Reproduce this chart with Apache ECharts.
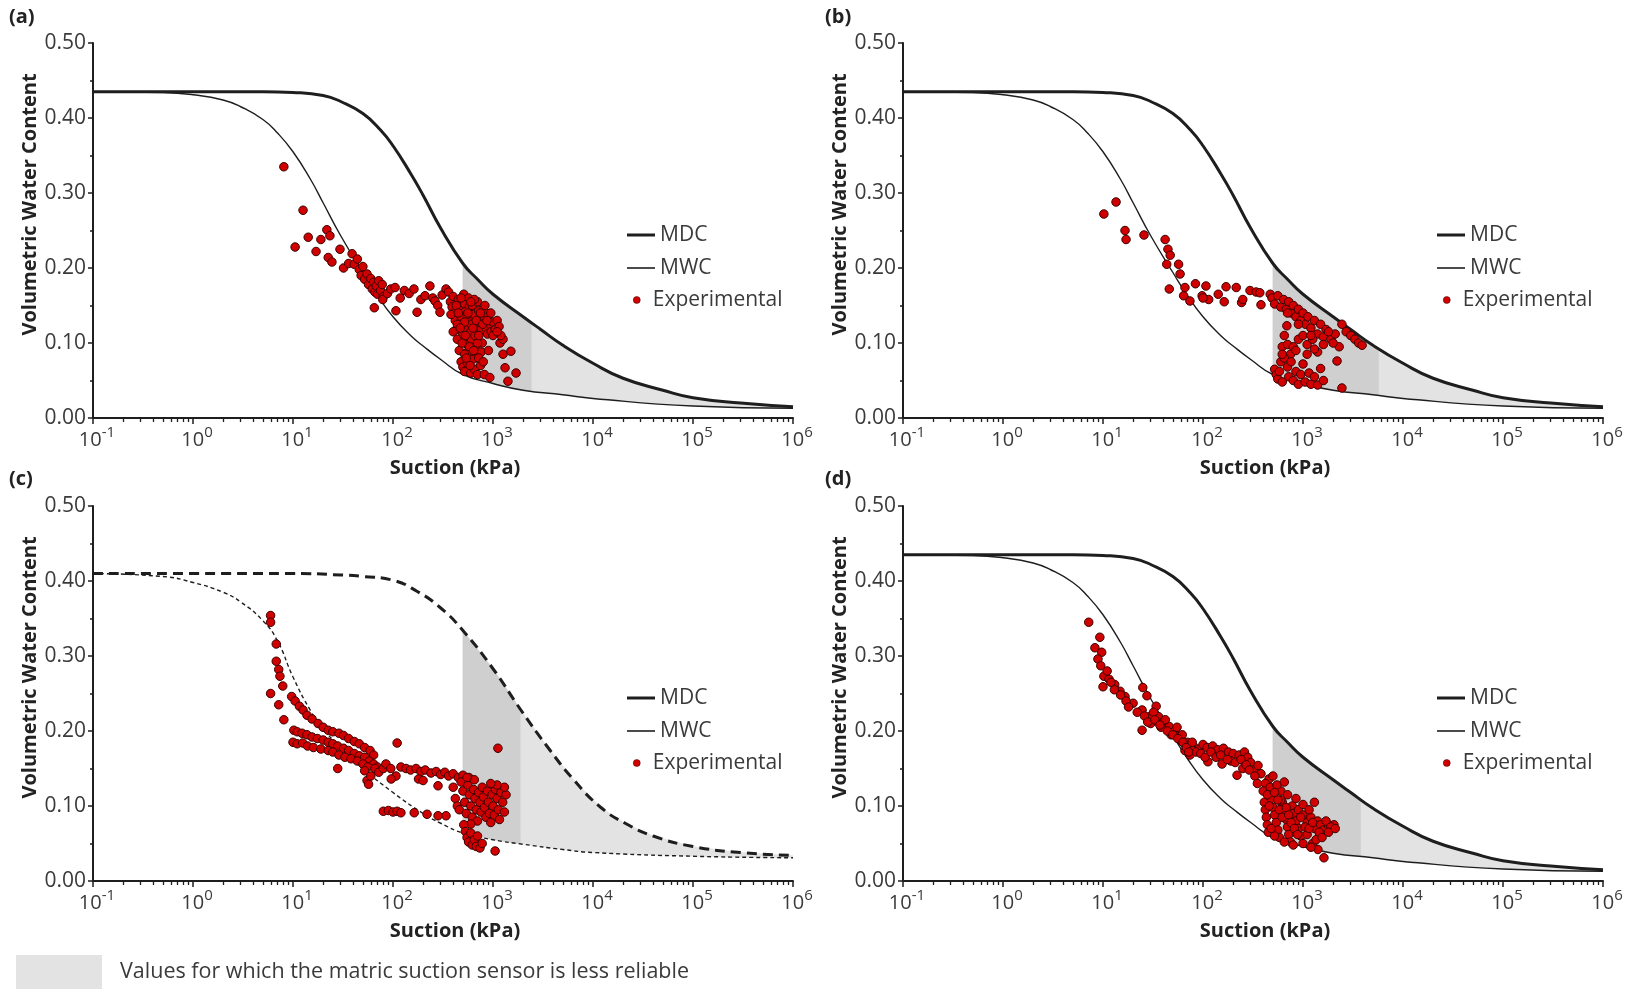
<!DOCTYPE html>
<html><head><meta charset="utf-8">
<script src="https://cdn.jsdelivr.net/npm/echarts@6/dist/echarts.min.js"></script>
<style>html,body{margin:0;padding:0;background:#fff}#c{width:1639px;height:989px}</style>
</head><body><div id="c"></div>
<script>
// ---------- data ----------
const decadeTicks = [0.1, 1, 10, 100, 1000, 10000, 100000, 1000000];
const yMin = 0, yMax = 0.5, yStep = 0.1;
const panelLabels = ['(a)', '(b)', '(c)', '(d)'];
const xTitle = 'Suction (kPa)';
const yTitle = 'Volumetric Water Content';
const shadeLabel = 'Values for which the matric suction sensor is less reliable';

// main drying / wetting curves (a), (b), (d) [suction kPa, theta]
const mdcABD = [[0.1,0.435],[1,0.435],[5,0.435],[10,0.434],[20,0.430],[30,0.422],[50,0.406],[75,0.384],[100,0.363],[150,0.326],[200,0.297],[300,0.253],[500,0.206],[700,0.185],[1000,0.165],[2000,0.135],[3000,0.118],[5000,0.097],[10000,0.073],[20000,0.053],[50000,0.037],[100000,0.027],[300000,0.020],[1000000,0.015]];
const mwcABD = [[0.1,0.435],[0.5,0.434],[1,0.431],[2,0.424],[3,0.415],[5,0.398],[7,0.380],[10,0.355],[15,0.318],[20,0.287],[30,0.243],[50,0.194],[70,0.163],[100,0.135],[150,0.110],[200,0.096],[300,0.078],[500,0.058],[1000,0.046],[2000,0.037],[5000,0.031],[10000,0.026],[100000,0.016],[1000000,0.013]];
// panel (c)
const mdcC = [[0.1,0.41],[1,0.41],[10,0.41],[30,0.408],[50,0.406],[100,0.401],[175,0.386],[300,0.364],[500,0.334],[1000,0.283],[1900,0.228],[3500,0.179],[6500,0.134],[12000,0.098],[21000,0.077],[40000,0.060],[100000,0.046],[300000,0.038],[1000000,0.034]];
const mwcC = [[0.1,0.41],[0.5,0.406],[1,0.398],[2,0.385],[3,0.372],[5,0.347],[7,0.320],[10,0.272],[15,0.227],[20,0.203],[30,0.178],[50,0.150],[100,0.118],[200,0.090],[300,0.077],[500,0.064],[1000,0.055],[2000,0.049],[5000,0.042],[10000,0.038],[100000,0.033],[1000000,0.031]];

// start / end of the darker "less reliable" band in each panel (kPa)
const bandStart = 500;
const bandEnds = [2450, 5750, 1900, 3800];
const bandLimit = 1000000;

// experimental points [suction kPa, theta]
const expA = [[8.1,0.335],[10.5,0.228],[12.6,0.277],[14.2,0.241],[17,0.222],[19,0.238],[21.8,0.251],[23.4,0.243],[22.5,0.214],[24.5,0.208],[29.5,0.225],[32,0.200],[39,0.219],[36,0.206],[41,0.205],[44,0.212],[46,0.198],[48,0.190],[50,0.202],[52,0.185],[55,0.192],[57,0.178],[60,0.186],[62,0.172],[64,0.181],[66,0.168],[68,0.176],[70,0.165],[72,0.183],[75,0.170],[78,0.178],[80,0.162],[65,0.147],[79,0.158],[88,0.166],[95,0.172],[105,0.174],[107,0.143],[118,0.160],[130,0.170],[145,0.166],[162,0.172],[174,0.141],[190,0.158],[209,0.163],[234,0.176],[250,0.160],[263,0.156],[280,0.150],[295,0.141],[310,0.164],[339,0.172],[360,0.168],[375,0.155],[390,0.148],[400,0.162],[410,0.140],[420,0.130],[430,0.118],[440,0.105],[450,0.158],[460,0.150],[470,0.145],[480,0.135],[490,0.125],[500,0.112],[510,0.165],[520,0.152],[530,0.142],[540,0.120],[550,0.098],[560,0.088],[570,0.160],[580,0.148],[590,0.132],[600,0.115],[610,0.105],[620,0.150],[640,0.138],[650,0.125],[660,0.110],[670,0.095],[680,0.080],[700,0.155],[720,0.143],[740,0.128],[760,0.118],[780,0.100],[800,0.145],[820,0.132],[850,0.120],[880,0.112],[900,0.138],[930,0.125],[960,0.115],[1000,0.128],[1050,0.118],[1100,0.130],[1175,0.100],[460,0.090],[480,0.075],[500,0.068],[520,0.062],[560,0.072],[600,0.060],[650,0.065],[700,0.058],[750,0.070],[820,0.058],[930,0.054],[1260,0.085],[1510,0.089],[1320,0.067],[1410,0.049],[1700,0.060],[1260,0.105],[520,0.085],[620,0.078],[580,0.095],[700,0.100],[760,0.088],[430,0.150],[550,0.138],[480,0.160],[650,0.158],[850,0.140],[1150,0.122],[1200,0.110],[700,0.128],[600,0.125],[520,0.128],[440,0.125],[400,0.115],[380,0.138],[450,0.140],[470,0.120],[490,0.100],[530,0.110],[560,0.140],[600,0.155],[630,0.120],[680,0.130],[720,0.110],[750,0.140],[790,0.125],[830,0.150],[870,0.130],[950,0.140],[1000,0.110],[1100,0.115],[540,0.080],[590,0.070],[640,0.090],[720,0.080],[800,0.075],[900,0.090]];
const expB = [[10.2,0.272],[13.5,0.288],[16.6,0.250],[17,0.238],[25.7,0.244],[41.8,0.238],[44.6,0.225],[47,0.217],[43.4,0.205],[57,0.205],[46,0.172],[59,0.192],[66,0.174],[64,0.163],[74,0.156],[84,0.179],[98,0.163],[107,0.176],[114,0.158],[100,0.160],[142,0.165],[170,0.175],[163,0.155],[215,0.174],[243,0.154],[250,0.158],[295,0.170],[340,0.168],[370,0.167],[380,0.151],[470,0.165],[490,0.160],[520,0.152],[560,0.163],[600,0.148],[640,0.158],[680,0.145],[720,0.155],[760,0.140],[800,0.150],[850,0.135],[900,0.145],[950,0.130],[1000,0.140],[1060,0.125],[1120,0.135],[1200,0.120],[1300,0.130],[1400,0.112],[1500,0.125],[1600,0.108],[1700,0.118],[1900,0.105],[2100,0.112],[2300,0.095],[2450,0.125],[2700,0.115],[3000,0.110],[3300,0.105],[3600,0.100],[3900,0.097],[2190,0.076],[2450,0.040],[690,0.123],[650,0.110],[620,0.095],[700,0.098],[750,0.085],[800,0.095],[900,0.105],[1000,0.110],[1100,0.098],[1250,0.105],[1400,0.088],[520,0.065],[540,0.058],[560,0.052],[580,0.062],[600,0.075],[620,0.048],[650,0.080],[700,0.068],[720,0.055],[760,0.075],[800,0.050],[850,0.062],[900,0.045],[950,0.058],[1000,0.072],[1050,0.048],[1150,0.060],[1200,0.045],[1300,0.055],[1400,0.044],[1500,0.066],[1600,0.050],[620,0.085],[850,0.090],[1100,0.085],[1300,0.092],[1600,0.098],[700,0.140],[900,0.125],[1200,0.110],[1800,0.115],[2000,0.100]];
const expC = [[5.97,0.354],[5.97,0.345],[5.97,0.250],[6.8,0.316],[6.8,0.293],[7.2,0.282],[7.4,0.273],[7.9,0.260],[7.2,0.235],[8.1,0.215],[9.7,0.246],[10.5,0.240],[11.6,0.233],[12.6,0.228],[13.8,0.221],[15.5,0.216],[17.8,0.210],[20,0.205],[22.5,0.201],[25,0.199],[28.8,0.197],[32,0.194],[36,0.190],[41,0.186],[46,0.183],[52,0.178],[59,0.174],[64,0.168],[10.2,0.201],[11,0.199],[12.3,0.197],[13.8,0.195],[15.5,0.192],[17.5,0.190],[20,0.188],[22.5,0.185],[25,0.183],[28,0.180],[32,0.177],[36,0.174],[41,0.170],[46,0.167],[52,0.165],[58,0.160],[64,0.156],[70,0.152],[10,0.185],[11,0.183],[12.5,0.184],[14,0.180],[16,0.178],[19,0.176],[22.5,0.174],[25,0.172],[28.8,0.168],[33,0.165],[38,0.163],[44,0.160],[50,0.156],[56,0.152],[28,0.150],[52,0.147],[55,0.134],[57,0.129],[60,0.140],[66,0.150],[72,0.145],[80,0.150],[85,0.156],[95,0.150],[107,0.140],[110,0.184],[96,0.136],[120,0.152],[135,0.150],[150,0.148],[170,0.150],[190,0.146],[210,0.148],[240,0.144],[270,0.146],[300,0.142],[330,0.145],[360,0.140],[400,0.143],[450,0.138],[500,0.141],[575,0.138],[180,0.136],[200,0.134],[282,0.127],[80,0.093],[90,0.094],[100,0.092],[110,0.093],[120,0.091],[163,0.091],[219,0.089],[282,0.087],[339,0.087],[400,0.125],[420,0.110],[440,0.100],[460,0.095],[480,0.132],[500,0.120],[520,0.105],[540,0.090],[560,0.128],[580,0.115],[600,0.100],[620,0.085],[640,0.122],[660,0.110],[680,0.095],[700,0.080],[720,0.118],[740,0.105],[760,0.092],[780,0.125],[800,0.112],[820,0.098],[850,0.085],[880,0.120],[900,0.105],[920,0.090],[950,0.078],[980,0.115],[1000,0.100],[1030,0.088],[1060,0.122],[1100,0.110],[1130,0.095],[1160,0.082],[1200,0.118],[1250,0.105],[1300,0.092],[1350,0.115],[1300,0.125],[1100,0.128],[950,0.130],[650,0.135],[550,0.138],[600,0.076],[510,0.075],[530,0.066],[550,0.058],[570,0.052],[600,0.064],[620,0.048],[650,0.055],[680,0.046],[700,0.060],[740,0.044],[780,0.050],[1120,0.177],[1050,0.040]];
const expD = [[7.2,0.345],[9.3,0.325],[8.3,0.311],[9.7,0.305],[8.9,0.296],[9.5,0.287],[10.2,0.273],[10,0.259],[11.5,0.269],[13.1,0.262],[14.8,0.253],[16.6,0.246],[20,0.237],[24.6,0.228],[28.7,0.219],[24.6,0.201],[25,0.258],[27.5,0.247],[34,0.233],[36,0.219],[40,0.212],[46,0.206],[52,0.200],[59,0.193],[59,0.188],[66,0.174],[74,0.168],[66,0.183],[80,0.180],[90,0.176],[100,0.182],[110,0.178],[125,0.180],[140,0.175],[160,0.177],[180,0.172],[200,0.170],[230,0.168],[260,0.172],[280,0.165],[112,0.159],[155,0.156],[219,0.141],[190,0.160],[250,0.150],[300,0.158],[320,0.148],[355,0.154],[380,0.143],[457,0.136],[420,0.130],[400,0.120],[410,0.105],[420,0.095],[430,0.085],[440,0.075],[450,0.065],[470,0.125],[480,0.110],[500,0.098],[520,0.088],[540,0.078],[560,0.068],[580,0.058],[600,0.120],[620,0.105],[650,0.092],[680,0.082],[700,0.072],[720,0.062],[750,0.052],[780,0.100],[800,0.090],[850,0.080],[900,0.070],[950,0.060],[1000,0.050],[900,0.095],[1000,0.088],[1100,0.078],[1200,0.085],[1300,0.070],[1400,0.080],[1500,0.075],[1600,0.068],[1800,0.074],[2040,0.075],[1620,0.031],[1410,0.042],[1250,0.050],[1100,0.062],[1000,0.102],[1150,0.095],[850,0.110],[700,0.115],[550,0.128],[650,0.132],[1300,0.105],[1700,0.080],[1900,0.072],[500,0.140],[600,0.108],[520,0.060],[480,0.070],[650,0.052],[800,0.048],[1200,0.045],[1350,0.055],[30,0.210],[32,0.225],[38,0.205],[42,0.215],[48,0.195],[55,0.205],[62,0.195],[70,0.185],[75,0.178],[85,0.172],[11,0.280],[12,0.265],[13,0.255],[15,0.248],[17,0.240],[18,0.232],[22,0.225],[26,0.220],[28,0.212],[33,0.215],[37,0.208],[44,0.200],[50,0.195],[56,0.190],[63,0.185],[68,0.178],[72,0.172],[78,0.185],[95,0.170],[105,0.165],[120,0.172],[135,0.165],[150,0.168],[175,0.162],[210,0.158],[240,0.162],[270,0.155],[290,0.148],[330,0.140],[350,0.130],[440,0.115],[460,0.100],[520,0.118],[560,0.108],[580,0.095],[620,0.085],[680,0.098],[720,0.088],[760,0.078],[820,0.070],[880,0.062],[950,0.085],[1050,0.072],[1150,0.070],[1250,0.078],[1450,0.065],[1550,0.058],[1800,0.065],[2100,0.070]];

// ---------- layout / style ----------
const FONT = 'Open Sans';
const INK = '#1e1e1e';
const TXT = '#3a3a3a';
const panels = [
  {left: 93,  top: 43,  mdc: mdcABD, mwc: mwcABD, exp: expA, dashed: false, legendLeft: 627, labelLeft: 9,   labelTop: 7},
  {left: 903, top: 43,  mdc: mdcABD, mwc: mwcABD, exp: expB, dashed: false, legendLeft: 1437, labelLeft: 825, labelTop: 7},
  {left: 93,  top: 506, mdc: mdcC,   mwc: mwcC,   exp: expC, dashed: true,  legendLeft: 627, labelLeft: 9,   labelTop: 469},
  {left: 903, top: 506, mdc: mdcABD, mwc: mwcABD, exp: expD, dashed: false, legendLeft: 1437, labelLeft: 825, labelTop: 469}
];
const GW = 700, GH = 375;

const minorTicks = [];
for (let k = 0; k < decadeTicks.length - 1; k++) {
  for (let m = 2; m <= 9; m++) minorTicks.push(m * decadeTicks[k]);
}

function interpAt(curve, x) {
  const lx = Math.log10(x);
  for (let k = 0; k < curve.length - 1; k++) {
    const a = curve[k], b = curve[k + 1];
    const la = Math.log10(a[0]), lb = Math.log10(b[0]);
    if (lx >= la && lx <= lb) {
      const t = (lx - la) / (lb - la);
      return [x, a[1] + t * (b[1] - a[1])];
    }
  }
  return [x, curve[curve.length - 1][1]];
}
function segment(curve, from, to) {
  const pts = [interpAt(curve, from)];
  curve.forEach(p => { if (p[0] > from && p[0] < to) pts.push(p); });
  pts.push(interpAt(curve, to));
  return pts;
}
function shadeRenderer(mdc, mwc, bandEnd) {
  const bands = [
    {from: bandStart, to: bandEnd, fill: '#cfcfcf'},
    {from: bandEnd, to: bandLimit, fill: '#e3e3e3'}
  ];
  return function (params, api) {
    return {
      type: 'group',
      children: bands.map(b => {
        const top = segment(mdc, b.from, b.to);
        const bot = segment(mwc, b.from, b.to).reverse();
        return {
          type: 'polygon',
          shape: {points: top.concat(bot).map(p => api.coord(p))},
          style: {fill: b.fill, stroke: b.fill, lineWidth: 0.5},
          silent: true
        };
      })
    };
  };
}

const grid = [], xAxis = [], yAxis = [], series = [], legend = [], title = [];
panels.forEach((p, i) => {
  grid.push({left: p.left, top: p.top, width: GW, height: GH, containLabel: false});
  xAxis.push({
    type: 'log', logBase: 10, gridIndex: i, min: decadeTicks[0], max: decadeTicks[decadeTicks.length - 1],
    position: 'bottom',
    axisLine: {show: true, onZero: false, lineStyle: {color: INK, width: 2}},
    axisTick: {show: true, customValues: decadeTicks, length: 6, lineStyle: {color: INK, width: 1.5}},
    axisLabel: {
      customValues: decadeTicks, margin: 7, padding: [0, 0, 0, 8],
      formatter: v => '{b|10}{s|' + Math.round(Math.log10(v)) + '}',
      rich: {
        b: {fontSize: 20, lineHeight: 25, fontFamily: FONT, color: TXT, verticalAlign: 'bottom'},
        s: {fontSize: 15, lineHeight: 15, fontFamily: FONT, color: TXT, verticalAlign: 'top'}
      }
    },
    splitLine: {show: false},
    name: xTitle, nameLocation: 'middle', nameGap: 40,
    nameTextStyle: {fontSize: 20, fontWeight: 'bold', fontFamily: FONT, color: '#222', padding: [0, 0, 0, 24]}
  });
  xAxis.push({
    type: 'log', logBase: 10, gridIndex: i, min: decadeTicks[0], max: decadeTicks[decadeTicks.length - 1],
    position: 'bottom',
    axisLine: {show: false, onZero: false},
    axisTick: {show: true, customValues: minorTicks, length: 4, lineStyle: {color: INK, width: 1.3}},
    axisLabel: {show: false},
    splitLine: {show: false}
  });
  yAxis.push({
    type: 'value', gridIndex: i, min: yMin, max: yMax, interval: yStep,
    axisLine: {show: true, onZero: false, lineStyle: {color: INK, width: 2}},
    axisTick: {show: true, length: 5, lineStyle: {color: INK, width: 1.5}},
    minorTick: {show: true, splitNumber: 2, length: 3, lineStyle: {color: INK, width: 1.5}},
    splitLine: {show: false},
    axisLabel: {formatter: v => v.toFixed(2), fontSize: 21, fontFamily: FONT, color: TXT, margin: 7},
    name: yTitle, nameLocation: 'middle', nameGap: 48, nameRotate: 90,
    nameTextStyle: {fontSize: 20, fontWeight: 'bold', fontFamily: FONT, color: '#222', padding: [0, 0, 0, 52]}
  });
  series.push({
    type: 'custom', name: shadeLabel, xAxisIndex: 2 * i, yAxisIndex: i,
    data: [[bandStart, yStep]], renderItem: shadeRenderer(p.mdc, p.mwc, bandEnds[i]),
    z: 1, silent: true, clip: true
  });
  series.push({
    type: 'line', name: 'MDC', xAxisIndex: 2 * i, yAxisIndex: i, data: p.mdc,
    symbol: 'none', smooth: 0.5, z: 3, silent: true,
    itemStyle: {color: INK},
    lineStyle: {color: INK, width: 3, type: p.dashed ? [10, 6] : 'solid'}
  });
  series.push({
    type: 'line', name: 'MWC', xAxisIndex: 2 * i, yAxisIndex: i, data: p.mwc,
    symbol: 'none', smooth: 0.5, z: 3, silent: true,
    itemStyle: {color: INK},
    lineStyle: {color: INK, width: 1.4, type: p.dashed ? [4, 3] : 'solid'}
  });
  series.push({
    type: 'scatter', name: 'Experimental', xAxisIndex: 2 * i, yAxisIndex: i, data: p.exp,
    symbol: 'circle', symbolSize: 8.5, z: 4, silent: true,
    itemStyle: {color: '#d10000', borderColor: '#3a0000', borderWidth: 1, opacity: 1}
  });
  const ly = p.top + 192;
  const legTxt = {fontSize: 21, fontFamily: FONT, color: TXT, lineHeight: 24};
  legend.push({left: p.legendLeft, top: ly - 12, padding: 0, icon: 'rect', itemWidth: 28, itemHeight: 3,
    selectedMode: false, data: ['MDC'], itemStyle: {color: INK, borderWidth: 0}, textStyle: legTxt});
  legend.push({left: p.legendLeft, top: ly + 33 - 12, padding: 0, icon: 'rect', itemWidth: 28, itemHeight: 1.6,
    selectedMode: false, data: ['MWC'], itemStyle: {color: INK, borderWidth: 0}, textStyle: legTxt});
  legend.push({left: p.legendLeft + 6, top: ly + 65 - 12, padding: 0, icon: 'circle', itemWidth: 22, itemHeight: 7,
    selectedMode: false, data: ['Experimental'], itemStyle: {color: '#d10000', borderColor: '#3a0000', borderWidth: 0.5}, textStyle: legTxt});
  title.push({text: panelLabels[i], left: p.labelLeft, top: p.labelTop, padding: 0,
    textStyle: {fontSize: 20, fontWeight: 'bold', fontFamily: FONT, color: '#222'}});
});
legend.push({left: 16, top: 955, padding: 0, icon: 'rect', itemWidth: 86, itemHeight: 34, selectedMode: false,
  data: [shadeLabel], itemStyle: {color: '#e3e3e3', borderWidth: 0},
  textStyle: {fontSize: 21.5, fontFamily: FONT, color: TXT, padding: [0, 0, 0, 13]}});

const chart = echarts.init(document.getElementById('c'), null, {renderer: 'canvas'});
chart.setOption({
  backgroundColor: '#ffffff',
  animation: false,
  title, grid, xAxis, yAxis, legend, series
});
</script>
</body></html>
